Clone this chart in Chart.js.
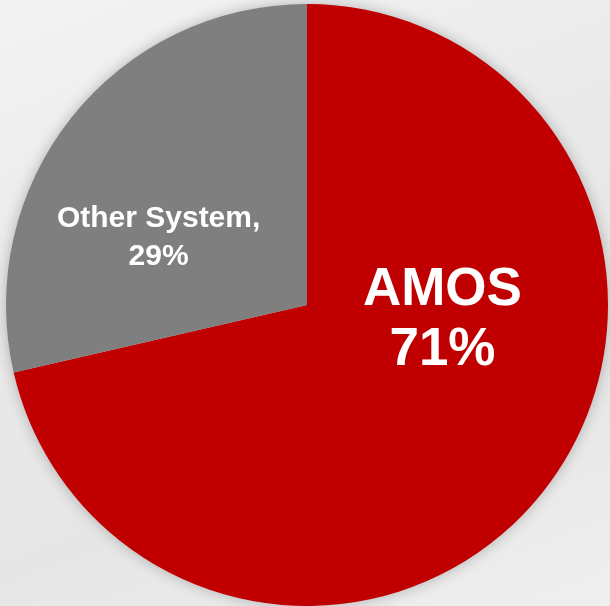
<!DOCTYPE html>
<html>
<head>
<meta charset="utf-8">
<script src="https://cdn.jsdelivr.net/npm/chart.js@4.4.0/dist/chart.umd.min.js"></script>
<style>
  html, body { margin: 0; padding: 0; }
  body {
    width: 610px; height: 606px; overflow: hidden;
    background: linear-gradient(160deg, #f3f3f3 0%, #e9e9e9 40%, #e6e6e6 70%, #efefef 100%);
  }
  #wrap { position: relative; width: 610px; height: 606px; }
</style>
</head>
<body>
<div id="wrap"><canvas id="mycanvas"></canvas></div>
<script>
var categories = ['AMOS', 'Other System'];
var shares = [71.4, 28.6];
var sliceColors = ['#C00000', '#7F7F7F'];

// label text per slice, drawn on top of the pie
var labelLines = [['AMOS', '71%'], ['Other System,', '29%']];

// soft shadow under the pie
var pieShadow = {
	id: 'pieShadow',
	beforeDatasetsDraw: function(chart) {
		var arc = chart.getDatasetMeta(0).data[0];
		var ctx = chart.ctx;
		ctx.save();
		ctx.shadowColor = 'rgba(0,0,0,0.25)';
		ctx.shadowBlur = 14;
		ctx.fillStyle = '#d0d0d0';
		ctx.beginPath();
		ctx.arc(arc.x, arc.y, arc.outerRadius, 0, Math.PI * 2);
		ctx.fill();
		ctx.restore();
	}
};

var sliceLabels = {
	id: 'sliceLabels',
	afterDatasetsDraw: function(chart) {
		var meta = chart.getDatasetMeta(0);
		var ctx = chart.ctx;
		var r = meta.data[0].outerRadius;
		var cx = meta.data[0].x, cy = meta.data[0].y;
		// offsets (fraction of radius) and font sizes as in the original slide
		var spots = [
			{ dx: 0.45, dy: 0.05, size: 53, gap: 60 },
			{ dx: -0.493, dy: -0.225, size: 30, gap: 38 }
		];
		ctx.save();
		ctx.fillStyle = '#ffffff';
		ctx.textAlign = 'center';
		ctx.textBaseline = 'middle';
		for (var i = 0; i < labelLines.length; i++) {
			var s = spots[i];
			ctx.font = 'bold ' + s.size + 'px "Liberation Sans", Arial, sans-serif';
			var lines = labelLines[i];
			var x = cx + s.dx * r;
			var y0 = cy + s.dy * r - (lines.length - 1) * s.gap / 2;
			for (var j = 0; j < lines.length; j++) {
				ctx.fillText(lines[j], x, y0 + j * s.gap);
			}
		}
		ctx.restore();
	}
};

var ctx = document.getElementById('mycanvas');
var pieChart = new Chart(ctx, {
	type: 'pie',
	data: {
		labels: categories,
		datasets: [{
			data: shares,
			backgroundColor: sliceColors,
			borderWidth: 0
		}]
	},
	options: {
		responsive: true,
		maintainAspectRatio: false,
		animation: false,
		layout: { padding: { left: 4, top: 4, right: 0, bottom: 0 } },
		plugins: {
			legend: { display: false },
			tooltip: { enabled: false }
		}
	},
	plugins: [pieShadow, sliceLabels]
});
</script>
</body>
</html>
